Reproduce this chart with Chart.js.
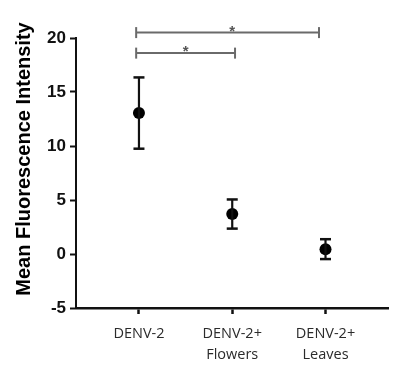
<!DOCTYPE html>
<html>
<head>
<meta charset="utf-8">
<script src="https://cdn.jsdelivr.net/npm/chart.js@4.4.1/dist/chart.umd.min.js"></script>
<style>
html,body{margin:0;padding:0;background:#fff;}
canvas{display:block;}
</style>
</head>
<body>
<canvas id="c" width="400" height="377"></canvas>
<script>
// ---- data ----
const categories = [['DENV-2'], ['DENV-2+', 'Flowers'], ['DENV-2+', 'Leaves']];
const meanValues = [13.05, 3.7, 0.45];
const errorValues = [3.3, 1.35, 0.92];
const yTickMin = -5;
const yTickMax = 20;
const yTickStep = 5;
const bracketStart = [0.97, 0.97];
const bracketEnd = [2.03, 2.93];
const bracketLevel = [18.6, 20.5];
const starX = [1.5, 2.0];
const starLabel = ['*', '*'];
const yTitle = 'Mean Fluorescence Intensity';

// ---- datasets built from data ----
const datasets = [];
meanValues.forEach((m, i) => {
  datasets.push({
    type: 'line',
    data: [{x: i + 1, y: m - errorValues[i]}, {x: i + 1, y: m + errorValues[i]}],
    borderColor: '#111',
    borderWidth: 2.2,
    pointRadius: 0,
    fill: false
  });
});
const caps = [];
meanValues.forEach((m, i) => {
  caps.push({x: i + 1, y: m - errorValues[i]});
  caps.push({x: i + 1, y: m + errorValues[i]});
});
datasets.push({
  type: 'scatter',
  data: caps,
  pointStyle: 'line',
  pointRadius: 5.5,
  pointBorderWidth: 2.5,
  pointBorderColor: '#111',
  showLine: false
});
datasets.push({
  type: 'scatter',
  data: meanValues.map((m, i) => ({x: i + 1, y: m})),
  pointStyle: 'circle',
  pointRadius: 6,
  pointBackgroundColor: '#000',
  pointBorderColor: '#000',
  pointBorderWidth: 0,
  showLine: false
});
bracketLevel.forEach((lv, i) => {
  datasets.push({
    type: 'line',
    data: [{x: bracketStart[i], y: lv}, {x: bracketEnd[i], y: lv}],
    borderColor: '#6a6a6a',
    borderWidth: 2,
    pointStyle: 'line',
    rotation: 90,
    pointRadius: 5.5,
    pointBorderWidth: 2,
    pointBorderColor: '#6a6a6a',
    clip: false,
    fill: false
  });
});

const extras = {
  id: 'extras',
  afterDatasetsDraw(chart) {
    const ctx = chart.ctx;
    const xs = chart.scales.x, ys = chart.scales.y;
    ctx.save();
    ctx.fillStyle = '#555';
    ctx.font = 'bold 15px "Liberation Sans", Arial, sans-serif';
    ctx.textAlign = 'center';
    ctx.textBaseline = 'alphabetic';
    starX.forEach((sx, i) => {
      ctx.fillText(starLabel[i], xs.getPixelForValue(sx), ys.getPixelForValue(bracketLevel[i]) + 3);
    });
    ctx.restore();
    ctx.save();
    ctx.fillStyle = '#000';
    ctx.font = 'bold 20px "Liberation Sans", Arial, sans-serif';
    ctx.textAlign = 'center';
    ctx.textBaseline = 'middle';
    ctx.translate(24, 159);
    ctx.rotate(-Math.PI / 2);
    ctx.fillText(yTitle, 0, 0);
    ctx.restore();
  }
};

new Chart(document.getElementById('c'), {
  type: 'scatter',
  data: {datasets},
  options: {
    responsive: false,
    animation: false,
    layout: {padding: {top: 38, right: 12, left: 0, bottom: 0}},
    plugins: {legend: {display: false}, tooltip: {enabled: false}},
    scales: {
      x: {
        type: 'linear',
        min: 0.325,
        max: 3.67,
        afterBuildTicks(scale) {
          scale.ticks = categories.map((c, i) => ({value: i + 1}));
        },
        afterFit(scale) { scale.height = 69; },
        ticks: {
          callback: (v) => categories[v - 1],
          color: '#2b2b2b',
          font: {family: '"Open Sans", sans-serif', size: 14.5, lineHeight: 1.45},
          padding: 9,
          maxRotation: 0,
          autoSkip: false
        },
        grid: {drawOnChartArea: false, tickLength: 6, tickColor: '#111', tickWidth: 2.5},
        border: {color: '#111', width: 2.5}
      },
      y: {
        min: yTickMin,
        max: yTickMax,
        afterFit(scale) { scale.width = 76; },
        ticks: {
          stepSize: yTickStep,
          color: '#111',
          font: {family: '"Liberation Sans", Arial, sans-serif', size: 17, weight: 'bold'},
          padding: 4
        },
        grid: {drawOnChartArea: false, tickLength: 6, tickColor: '#111', tickWidth: 2},
        border: {color: '#111', width: 2}
      }
    }
  },
  plugins: [extras]
});
</script>
</body>
</html>
